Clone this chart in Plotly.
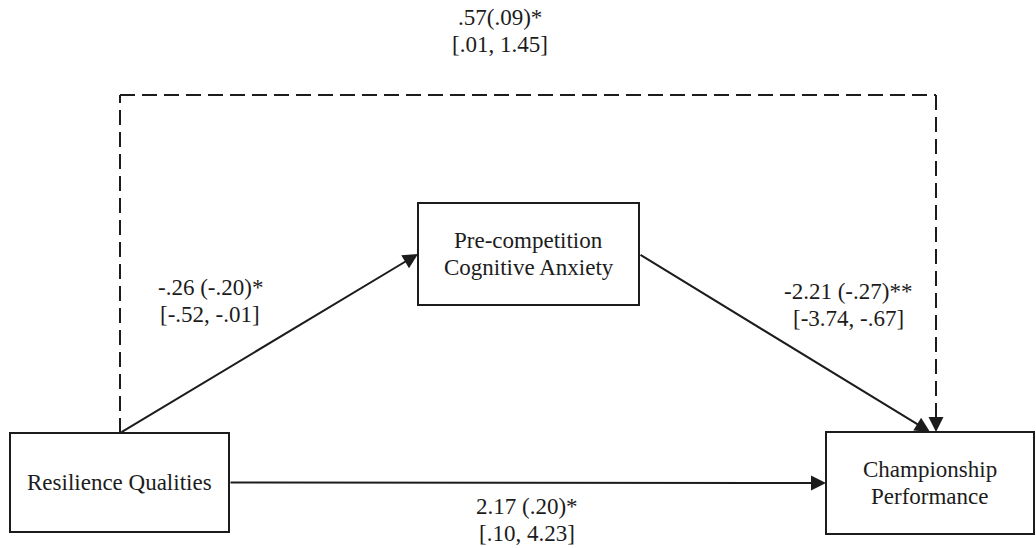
import plotly.graph_objects as go

# Mediation model: variables and path estimates
variables = ["Resilience Qualities", "Pre-competition<br>Cognitive Anxiety", "Championship<br>Performance"]
path_names = ["a", "b", "c", "c_prime"]
path_estimates = ["-.26 (-.20)*", "-2.21 (-.27)**", "2.17 (.20)*", ".57(.09)*"]
path_intervals = ["[-.52, -.01]", "[-3.74, -.67]", "[.10, 4.23]", "[.01, 1.45]"]

# Layout geometry (pixel space, y downwards)
W, H = 1036, 548
boxes = {
    variables[0]: (10, 229, 433, 532),
    variables[1]: (418, 639, 203, 305),
    variables[2]: (826, 1034, 432, 534),
}
label_pos = {
    "a": (210, 301),
    "b": (848, 305),
    "c": (527, 520),
    "c_prime": (500, 31),
}

INK = "#1c1c1c"
FONT = "'Liberation Serif', 'Times New Roman', serif"
FSIZE = 23
LINE_GAP = 27  # vertical distance between stacked text lines

fig = go.Figure()
shapes = []
annotations = []


def text_block(x, y_mid, lines):
    """Centre a stack of text lines on (x, y_mid)."""
    n = len(lines)
    for i, line in enumerate(lines):
        y = y_mid + (i - (n - 1) / 2) * LINE_GAP
        annotations.append(dict(x=x, y=y, text=line, showarrow=False,
                                font=dict(family=FONT, size=FSIZE, color=INK),
                                xanchor="center", yanchor="middle"))


for name, (x0, x1, y0, y1) in boxes.items():
    shapes.append(dict(type="rect", x0=x0, x1=x1, y0=y0, y1=y1,
                       line=dict(color=INK, width=2), fillcolor="rgba(0,0,0,0)"))
    text_block((x0 + x1) / 2, (y0 + y1) / 2, name.split("<br>"))


def centre_y(b):
    return (b[2] + b[3]) / 2


rq, pca, cp = (boxes[v] for v in variables)
src_x = 120  # where the paths leave the top of the predictor box
dash_x = 936  # where the direct-effect path enters the outcome box
top_y = 95


def arrow(x_tail, y_tail, x_head, y_head):
    annotations.append(dict(x=x_head, y=y_head, ax=x_tail, ay=y_tail,
                            xref="x", yref="y", axref="x", ayref="y",
                            text="", showarrow=True, arrowhead=2, arrowsize=1.5,
                            arrowwidth=2, arrowcolor=INK, standoff=0, startstandoff=0))


# a path: predictor -> mediator
arrow(src_x, rq[2], pca[0], centre_y(pca))
# b path: mediator -> outcome
arrow(pca[1], centre_y(pca), 930, cp[2])
# c path: predictor -> outcome (horizontal)
arrow(rq[1], centre_y(rq), cp[0], centre_y(cp))

# dashed path over the top
dash = "15px,7px"
for (xa, ya, xb, yb) in [(src_x, rq[2], src_x, top_y),
                         (src_x, top_y, dash_x, top_y),
                         (dash_x, top_y, dash_x, cp[2] - 14)]:
    shapes.append(dict(type="line", x0=xa, y0=ya, x1=xb, y1=yb,
                       line=dict(color=INK, width=2, dash=dash)))
arrow(dash_x, cp[2] - 16, dash_x, cp[2])

# path labels
for key, est, ci in zip(path_names, path_estimates, path_intervals):
    x, y = label_pos[key]
    text_block(x, y, [est, ci])

fig.update_layout(
    width=W, height=H,
    margin=dict(l=0, r=0, t=0, b=0),
    paper_bgcolor="white", plot_bgcolor="white",
    xaxis=dict(range=[0, W], visible=False, fixedrange=True),
    yaxis=dict(range=[H, 0], visible=False, fixedrange=True),
    shapes=shapes, annotations=annotations, showlegend=False,
)

fig.write_html("out.html")
